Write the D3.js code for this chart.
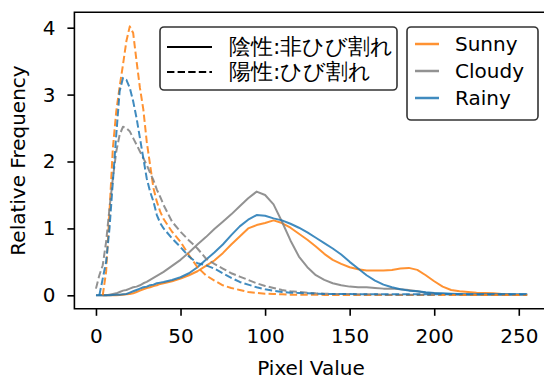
<!DOCTYPE html>
<html>
<head>
<meta charset="utf-8">
<script src="https://cdn.jsdelivr.net/npm/d3@7"></script>
<style>
  body { margin: 0; background: #fff; }
  svg text { font-family: "DejaVu Sans", sans-serif; }
</style>
</head>
<body>
<div id="chart"></div>
<script>
// Pixel values (x positions), finer near the sharp peaks
const pixelValues = [0, 2, 4, 6, 8, 10, 12, 14, 16, 18, 20, 22, 24, 26, 28, 30, 32, 34, 36, 38, 40,
  45, 50, 55, 60, 65, 70, 75, 80, 85, 90, 95, 100, 105, 110, 115, 120, 125, 130, 135, 140, 145, 150,
  155, 160, 165, 170, 175, 180, 185, 190, 195, 200, 205, 210, 215, 220, 225, 230, 235, 240, 245, 250, 255];

// 陰性 (non-cracked) - solid lines
const sunnyNeg = [null, null, 0, 0, 0, 0, 0, 0.005, 0.01, 0.015, 0.02, 0.03, 0.05, 0.07, 0.09, 0.11, 0.12, 0.14, 0.15, 0.17, 0.18,
  0.21, 0.25, 0.3, 0.36, 0.44, 0.52, 0.63, 0.76, 0.88, 1.0, 1.05, 1.08, 1.12, 1.08, 1.01, 0.92, 0.83, 0.73, 0.62, 0.53, 0.47, 0.42,
  0.39, 0.37, 0.37, 0.37, 0.38, 0.4, 0.41, 0.38, 0.3, 0.21, 0.13, 0.08, 0.06, 0.05, 0.04, 0.035, 0.03, 0.02, 0.015, null, null];
const cloudyNeg = [0, 0, 0, 0, 0.01, 0.02, 0.03, 0.05, 0.07, 0.08, 0.1, 0.12, 0.13, 0.15, 0.18, 0.2, 0.23, 0.26, 0.29, 0.32, 0.35,
  0.44, 0.53, 0.64, 0.76, 0.87, 0.99, 1.1, 1.21, 1.33, 1.45, 1.55, 1.5, 1.36, 1.1, 0.82, 0.58, 0.42, 0.3, 0.23, 0.18, 0.15, 0.13,
  0.12, 0.12, 0.11, 0.1, 0.1, 0.09, 0.08, 0.06, 0.04, 0.03, 0.02, 0.015, 0.01, 0.01, 0.01, 0.01, 0.01, 0.01, 0.01, 0.01, 0.01];
const rainyNeg = [0, 0, 0, 0, 0, 0.005, 0.01, 0.01, 0.015, 0.02, 0.04, 0.06, 0.08, 0.1, 0.12, 0.13, 0.15, 0.16, 0.18, 0.19, 0.2,
  0.23, 0.27, 0.33, 0.42, 0.53, 0.64, 0.76, 0.9, 1.03, 1.13, 1.2, 1.19, 1.15, 1.12, 1.07, 1.01, 0.94, 0.86, 0.78, 0.7, 0.61, 0.5,
  0.4, 0.3, 0.22, 0.16, 0.12, 0.09, 0.07, 0.06, 0.045, 0.035, 0.03, 0.025, 0.02, 0.015, 0.015, 0.015, 0.015, 0.015, 0.015, 0.015, 0.015];

// 陽性 (cracked) - dashed lines
const sunnyPos = [null, null, 0, 0.35, 1.25, 2.2, 2.75, 3.12, 3.45, 3.8, 4.02, 3.92, 3.5, 3.1, 2.78, 2.3, 1.95, 1.6, 1.4, 1.25, 1.14,
  0.95, 0.8, 0.6, 0.42, 0.3, 0.22, 0.15, 0.11, 0.08, 0.05, 0.035, 0.025, 0.02, 0.015, 0.01, 0.01, 0.01, 0.01, 0.005, 0.005, 0.005, 0.005,
  0.005, 0.005, 0.005, 0.005, 0.005, 0.005, 0.005, 0.005, 0.005, 0.005, 0.005, 0.005, 0.005, 0.005, 0.005, 0.005, 0.005, 0.005, 0.005, 0.005, 0.005];
const cloudyPos = [0.1, 0.3, 0.45, 0.8, 1.3, 1.75, 2.15, 2.4, 2.52, 2.5, 2.45, 2.35, 2.25, 2.15, 2.05, 1.95, 1.83, 1.72, 1.58, 1.47, 1.35,
  1.1, 0.95, 0.82, 0.7, 0.55, 0.47, 0.4, 0.33, 0.28, 0.23, 0.18, 0.14, 0.11, 0.08, 0.06, 0.05, 0.04, 0.03, 0.025, 0.02, 0.02, 0.02,
  0.015, 0.015, 0.015, 0.01, 0.01, 0.01, 0.01, 0.01, 0.01, 0.01, null, null, null, null, null, null, null, null, null, null, null];
const rainyPos = [null, 0, 0.25, 0.5, 1.0, 1.7, 2.4, 3.05, 3.25, 3.22, 3.1, 2.9, 2.65, 2.35, 2.05, 1.75, 1.55, 1.4, 1.2, 1.08, 1.0,
  0.85, 0.72, 0.58, 0.48, 0.45, 0.4, 0.33, 0.26, 0.2, 0.16, 0.12, 0.09, 0.07, 0.05, 0.04, 0.035, 0.03, 0.025, 0.02, 0.02, 0.02, 0.02,
  0.015, 0.015, 0.015, 0.015, 0.015, 0.015, 0.015, 0.015, 0.015, 0.015, 0.015, 0.015, 0.015, 0.015, 0.015, 0.015, 0.015, 0.015, 0.015, 0.015, 0.015];

const weatherNames = ["Sunny", "Cloudy", "Rainy"];
const weatherColors = ["#ff7f0e", "#7f7f7f", "#1f77b4"];
const xTicks = [0, 50, 100, 150, 200, 250];
const yTicks = [0, 1, 2, 3, 4];
const styleLabels = ["陰性:非ひび割れ", "陽性:ひび割れ"];

const series = [
  { values: sunnyNeg, color: 0, dashed: false },
  { values: cloudyNeg, color: 1, dashed: false },
  { values: rainyNeg, color: 2, dashed: false },
  { values: sunnyPos, color: 0, dashed: true },
  { values: cloudyPos, color: 1, dashed: true },
  { values: rainyPos, color: 2, dashed: true }
];

const width = 544, height = 379;
const axLeft = 74.4, axTop = 12.2, axBottom = 308.8, axRight = 548.8;

const svg = d3.select("#chart").append("svg")
    .attr("width", width)
    .attr("height", height);

const x = d3.scaleLinear().domain([-12.75, 267.75]).range([axLeft, axRight]);
const y = d3.scaleLinear().domain([-0.2015, 4.2315]).range([axBottom, axTop]);

svg.append("clipPath").attr("id", "clip")
  .append("rect")
    .attr("x", axLeft).attr("y", axTop)
    .attr("width", axRight - axLeft).attr("height", axBottom - axTop);

const line = d3.line()
    .defined(d => d[1] != null)
    .x(d => x(d[0]))
    .y(d => y(d[1]));

const plot = svg.append("g").attr("clip-path", "url(#clip)");

series.forEach(s => {
    plot.append("path")
        .datum(pixelValues.map((v, i) => [v, s.values[i]]))
        .attr("d", line)
        .attr("fill", "none")
        .attr("stroke", weatherColors[s.color])
        .attr("stroke-opacity", 0.85)
        .attr("stroke-width", 2)
        .attr("stroke-linejoin", "round")
        .attr("stroke-dasharray", s.dashed ? "7.4,3.2" : null);
});

// Axes
const xAxis = svg.append("g")
    .attr("transform", `translate(0,${axBottom})`)
    .call(d3.axisBottom(x).tickValues(xTicks).tickSize(7).tickPadding(13).tickSizeOuter(0));
const yAxis = svg.append("g")
    .attr("transform", `translate(${axLeft},0)`)
    .call(d3.axisLeft(y).tickValues(yTicks).tickFormat(d3.format("d"))
        .tickSize(7).tickPadding(12).tickSizeOuter(0));

[xAxis, yAxis].forEach(a => {
    a.selectAll("text").attr("font-size", 20).attr("fill", "#000")
        .attr("font-family", "DejaVu Sans");
    a.selectAll("line").attr("stroke", "#000").attr("stroke-width", 1.6);
    a.select(".domain").remove();
});

// spines (left, bottom, top; right is off-canvas)
svg.append("path")
    .attr("d", `M${axRight},${axTop}H${axLeft}V${axBottom}H${axRight}`)
    .attr("fill", "none")
    .attr("stroke", "#000")
    .attr("stroke-width", 1.6);

svg.append("text")
    .attr("x", 311).attr("y", 375)
    .attr("text-anchor", "middle")
    .attr("font-size", 20)
    .text("Pixel Value");

svg.append("text")
    .attr("transform", `translate(25,${(axTop + axBottom) / 2}) rotate(-90)`)
    .attr("text-anchor", "middle")
    .attr("font-size", 20)
    .text("Relative Frequency");

// Legend: line style
const leg1 = svg.append("g");
leg1.append("rect")
    .attr("x", 160).attr("y", 27).attr("width", 237).attr("height", 63)
    .attr("rx", 4).attr("fill", "#fff").attr("fill-opacity", 0.8)
    .attr("stroke", "#333").attr("stroke-width", 1.6);
styleLabels.forEach((t, i) => {
    const yy = 46 + i * 25;
    leg1.append("line")
        .attr("x1", 167).attr("x2", 212).attr("y1", yy + 1).attr("y2", yy + 1)
        .attr("stroke", "#000").attr("stroke-width", 2)
        .attr("stroke-dasharray", i === 1 ? "7.4,3.2" : null);
    leg1.append("text")
        .attr("x", 229).attr("y", yy).attr("dy", "0.36em")
        .attr("font-size", 22)
        .attr("font-family", "'Noto Sans CJK JP', 'DejaVu Sans', sans-serif")
        .text(t);
});

// Legend: weather colours
const leg2 = svg.append("g");
leg2.append("rect")
    .attr("x", 407).attr("y", 27).attr("width", 131).attr("height", 93)
    .attr("rx", 4).attr("fill", "#fff").attr("fill-opacity", 0.8)
    .attr("stroke", "#333").attr("stroke-width", 1.6);
weatherNames.forEach((name, i) => {
    const yy = 44 + i * 27;
    leg2.append("line")
        .attr("x1", 415).attr("x2", 439).attr("y1", yy).attr("y2", yy)
        .attr("stroke", weatherColors[i]).attr("stroke-opacity", 0.85)
        .attr("stroke-width", 2.5);
    leg2.append("text")
        .attr("x", 455).attr("y", yy).attr("dy", "0.36em")
        .attr("font-size", 20)
        .text(name);
});
</script>
</body>
</html>
